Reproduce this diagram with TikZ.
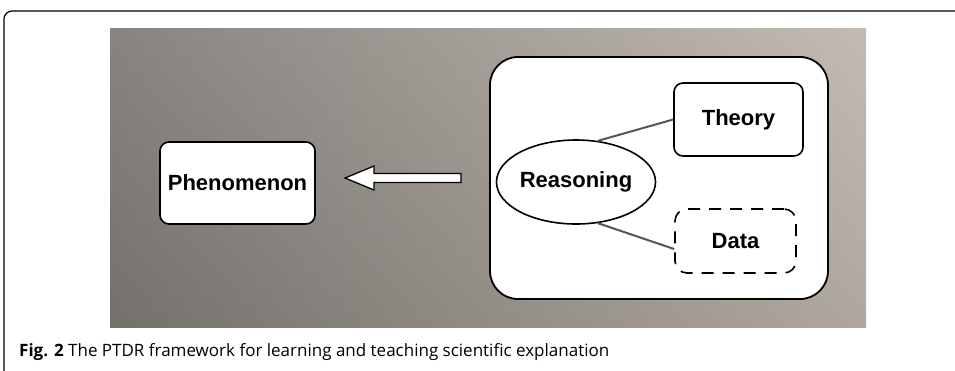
\documentclass[tikz,border=0pt]{standalone}
\usepackage{fontspec}
\setmainfont{Liberation Sans}
\newfontfamily\capfont{Open Sans}
\usetikzlibrary{shapes.geometric}
\definecolor{bgdark}{HTML}{7E7A75}
\definecolor{bglight}{HTML}{BEB6AE}
\definecolor{linkgray}{HTML}{555555}
\pgfdeclarehorizontalshading{panelshade}{100bp}{color(0bp)=(bgdark); color(25bp)=(bgdark); color(75bp)=(bglight); color(100bp)=(bglight)}
\tikzset{
  box/.style={draw=black, line width=1.6pt, fill=white, rounded corners=9pt, font=\fontsize{22}{24}\selectfont\bfseries},
  dashbox/.style={draw=black, line width=1.6pt, fill=white, rounded corners=12pt, dash pattern=on 12pt off 9pt, font=\fontsize{22}{24}\selectfont\bfseries},
  oval/.style={ellipse, draw=black, line width=1.6pt, fill=white, font=\fontsize{22}{24}\selectfont\bfseries},
  link/.style={draw=linkgray, line width=2pt},
  bigarrow/.style={draw=black, line width=1.3pt, fill=white}
}
\begin{document}
\begin{tikzpicture}[x=1pt,y=-1pt]
\useasboundingbox (0,0) rectangle (955,370);
% outer frame
\draw[line width=1.2pt, rounded corners=8pt] (4,372) -- (4,11) -- (960,11);
% gradient panel
\shade[shading=panelshade] (110,28) rectangle (866,327);
\shade[top color=white, bottom color=black, fill opacity=0.08] (110,28) rectangle (866,327);
% big container
\node[draw=black, line width=1.8pt, fill=white, rounded corners=28pt, minimum width=338pt, minimum height=242pt] (frame) at (659,178) {};
% nodes
\node[box, minimum width=155pt, minimum height=82pt] (phen) at (237.5,183) {Phenomenon};
\node[box, minimum width=129pt, minimum height=73pt] (theory) at (738.5,119.5) {Theory};
\node[dashbox, minimum width=121pt, minimum height=64pt] (data) at (735.5,241) {Data};
\node[oval, minimum width=128pt, minimum height=84pt, inner sep=0pt] (reason) at (576,182) {Reasoning};
% links
\draw[link] (reason.62) -- (theory.west);
\draw[link] (reason.-62) -- ([yshift=-8pt]data.west);
% hollow arrow
\coordinate (atail) at (461,178);
\coordinate (atip) at (345,178);
\draw[bigarrow] (atip) -- (374,166) -- (374,173.5) -- (461,173.5) -- (461,182.5) -- (374,182.5) -- (374,190) -- cycle;
% caption
\node[anchor=base west, inner sep=0pt, font=\capfont\fontsize{17}{20}\selectfont] (cap) at (19,356) {\textbf{Fig. 2} The PTDR framework for learning and teaching scientific explanation};
\end{tikzpicture}
\end{document}
